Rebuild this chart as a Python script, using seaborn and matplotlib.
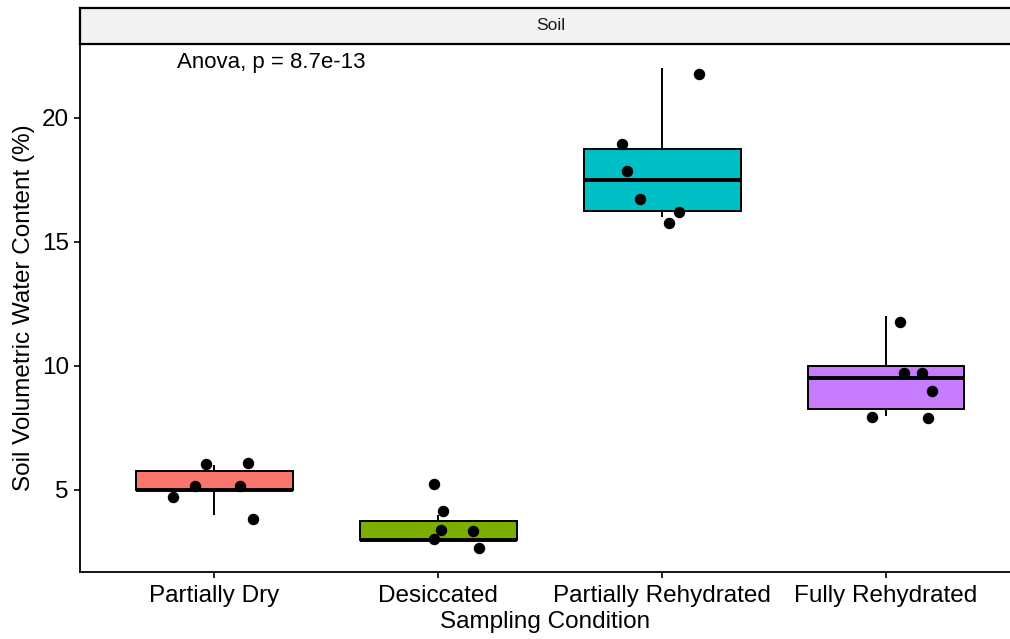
import numpy as np
import pandas as pd
import matplotlib
matplotlib.use("Agg")
import matplotlib.pyplot as plt
import seaborn as sns

# ---- data ----
categories = ["Partially Dry", "Desiccated", "Partially Rehydrated", "Fully Rehydrated"]
colors = ["#F8766D", "#7CAE00", "#00BFC4", "#C77CFF"]

# underlying measurements (used for the boxplots)
vals_partially_dry = [4, 5, 5, 5, 6, 6]
vals_desiccated = [3, 3, 3, 3, 4, 5]
vals_partially_rehydrated = [16, 16, 17, 18, 19, 22]
vals_fully_rehydrated = [8, 8, 9, 10, 10, 12]

# jittered point positions
jit_x_partially_dry = [-0.183, -0.085, -0.036, 0.116, 0.152, 0.174]
jit_y_partially_dry = [4.72, 5.16, 6.05, 5.16, 6.09, 3.83]
jit_x_desiccated = [-0.018, 0.022, 0.013, -0.018, 0.156, 0.183]
jit_y_desiccated = [5.24, 4.15, 3.39, 3.02, 3.35, 2.66]
jit_x_partially_rehydrated = [-0.179, -0.156, -0.098, 0.076, 0.031, 0.165]
jit_y_partially_rehydrated = [18.95, 17.86, 16.73, 16.21, 15.77, 21.77]
jit_x_fully_rehydrated = [0.0625, 0.080, 0.161, 0.205, -0.0625, 0.1875]
jit_y_fully_rehydrated = [11.79, 9.73, 9.73, 8.99, 7.94, 7.90]

yticks = [5, 10, 15, 20]
anova_text = "Anova, p = 8.7e-13"
facet_label = "Soil"
xlabel = "Sampling Condition"
ylabel = "Soil Volumetric Water Content (%)"

# ---- build frames ----
all_vals = [vals_partially_dry, vals_desiccated, vals_partially_rehydrated, vals_fully_rehydrated]
all_jx = [jit_x_partially_dry, jit_x_desiccated, jit_x_partially_rehydrated, jit_x_fully_rehydrated]
all_jy = [jit_y_partially_dry, jit_y_desiccated, jit_y_partially_rehydrated, jit_y_fully_rehydrated]

df = pd.DataFrame({
    "cond": np.repeat(categories, [len(v) for v in all_vals]),
    "val": np.concatenate(all_vals),
})
pts = pd.DataFrame({
    "x": np.concatenate([i + np.array(jx) for i, jx in enumerate(all_jx)]),
    "y": np.concatenate(all_jy),
})

sns.set_style("white")
plt.rcParams["font.family"] = ["Liberation Sans", "DejaVu Sans"]

W, H = 1010, 639
fig = plt.figure(figsize=(W / 100, H / 100), dpi=100)
ax = fig.add_axes([80 / W, (H - 572) / H, (W - 80) / W, (572 - 44) / H])

sns.boxplot(
    data=df, x="cond", y="val", hue="cond", order=categories, hue_order=categories,
    palette=colors, legend=False, saturation=1, width=0.7, showfliers=False,
    linecolor="black", linewidth=1.4, ax=ax,
    medianprops=dict(linewidth=2.8, color="black"),
    capprops=dict(linewidth=0),
)
sns.scatterplot(data=pts, x="x", y="y", color="black", s=68, linewidth=0,
                legend=False, ax=ax, zorder=5)

ax.set_xlim(-0.6, 3 + (W - 886) / 224)
ax.set_ylim(1.69, 22.98)
ax.set_yticks(yticks)
ax.set_yticklabels([str(t) for t in yticks])
ax.set_xticks(range(len(categories)))
ax.set_xticklabels(categories)

for s in ["top", "right"]:
    ax.spines[s].set_visible(False)
for s in ["left", "bottom"]:
    ax.spines[s].set_color("black")
    ax.spines[s].set_linewidth(1.3)
ax.tick_params(axis="both", which="major", direction="out", length=4, width=1.2,
               color="black", labelsize=17.5, labelcolor="black", left=True, bottom=True)
ax.tick_params(axis="y", pad=4)
ax.tick_params(axis="x", pad=5.5)
ax.set_xlabel(xlabel, fontsize=17.5, color="black", labelpad=2.5)
ax.set_ylabel(ylabel, fontsize=17.5, color="black", labelpad=5)
ax.grid(False)

ax.text(-0.165, 22.25, anova_text, ha="left", va="center", fontsize=16, color="black")

# facet strip
sax = fig.add_axes([80 / W, (H - 44) / H, (W - 80) / W, 36 / H])
sax.set_facecolor("#F2F2F2")
sax.set_xticks([])
sax.set_yticks([])
for name, s in sax.spines.items():
    s.set_color("black")
    s.set_linewidth(1.6)
sax.spines["right"].set_visible(False)
sax.text((551 - 80) / (W - 80), 0.5, facet_label, transform=sax.transAxes,
         ha="center", va="center", fontsize=12.5, color="#1A1A1A")

fig.savefig("out.png", dpi=100)
